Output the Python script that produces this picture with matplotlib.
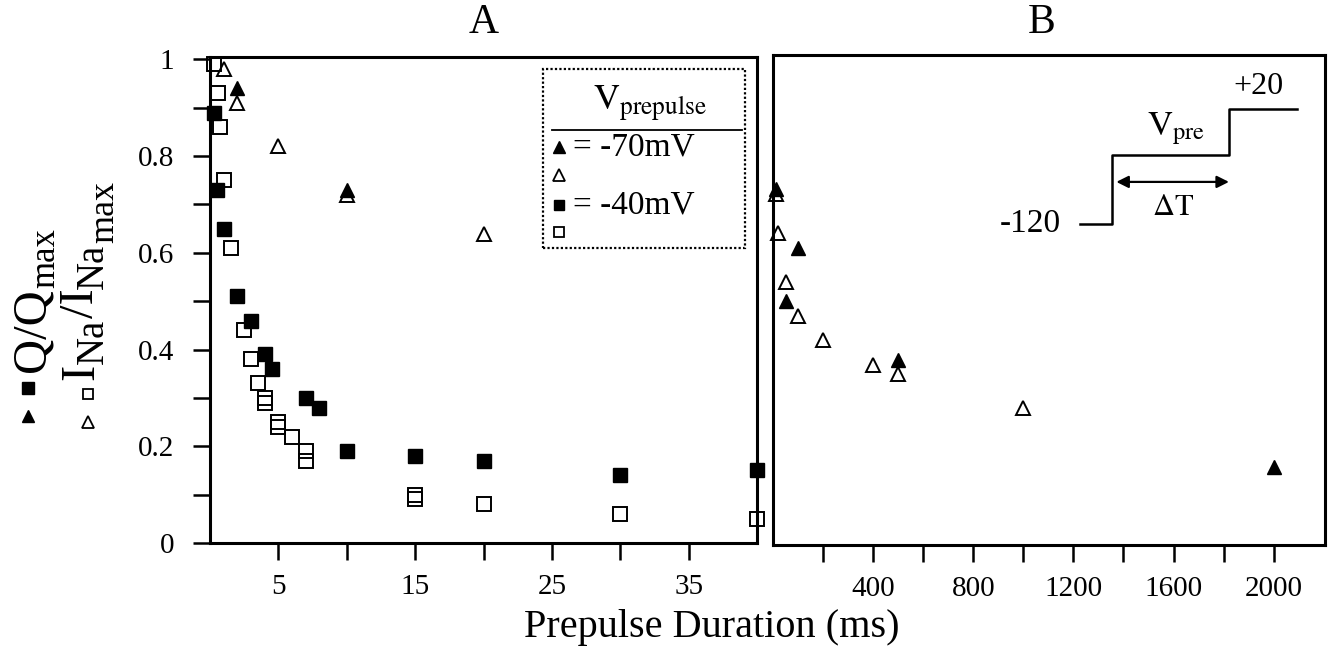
import matplotlib
matplotlib.use("Agg")
import matplotlib.pyplot as plt
from matplotlib.lines import Line2D
from matplotlib.patches import Rectangle

plt.rcParams['font.family'] = ['Liberation Serif', 'DejaVu Serif']
plt.rcParams['mathtext.fontset'] = 'stix'

# ---------------- data ----------------
# Panel A (0-40 ms)
qa_sq_x = [0.3, 0.5, 1.0, 2.0, 3.0, 4.0, 4.5, 7.0, 8.0, 10, 15, 20, 30, 40]
qa_sq_y = [0.89, 0.73, 0.65, 0.51, 0.46, 0.39, 0.36, 0.30, 0.28, 0.19, 0.18, 0.17, 0.14, 0.15]

ia_sq_x = [0.3, 0.6, 0.7, 1.0, 1.5, 2.5, 3.0, 3.5, 4.0, 4.0, 5.0, 5.0, 6.0, 7.0, 7.0, 15, 15, 20, 30, 40]
ia_sq_y = [0.99, 0.93, 0.86, 0.75, 0.61, 0.44, 0.38, 0.33, 0.30, 0.29, 0.25, 0.24, 0.22, 0.19, 0.17,
           0.10, 0.09, 0.08, 0.06, 0.05]

qa_tri_x = [2.0, 10]
qa_tri_y = [0.94, 0.73]

ia_tri_x = [1.0, 2.0, 5.0, 10, 20]
ia_tri_y = [0.98, 0.91, 0.82, 0.72, 0.64]

# Panel B (0-2200 ms)
qb_tri_x = [10, 50, 100, 500, 2000]
qb_tri_y = [0.73, 0.50, 0.61, 0.38, 0.16]

ib_tri_x = [10, 20, 50, 100, 200, 400, 500, 1000]
ib_tri_y = [0.72, 0.64, 0.54, 0.47, 0.42, 0.37, 0.35, 0.28]

a_xticks = [5, 10, 15, 20, 25, 30, 35]
a_xlabels = ['5', '', '15', '', '25', '', '35']
y_ticks = [0, 0.1, 0.2, 0.3, 0.4, 0.5, 0.6, 0.7, 0.8, 0.9, 1.0]
y_labels = ['0', '', '0.2', '', '0.4', '', '0.6', '', '0.8', '', '1']
b_xticks = [200, 400, 600, 800, 1000, 1200, 1400, 1600, 1800, 2000]
b_xlabels = ['', '400', '', '800', '', '1200', '', '1600', '', '2000']

# ---------------- figure ----------------
W, H = 1333, 653
fig = plt.figure(figsize=(W / 100, H / 100), dpi=100)

def frac(l, r, b, t):
    return [l / W, 1 - b / H, (r - l) / W, (b - t) / H]

axA = fig.add_axes(frac(210, 757, 543, 57))
axB = fig.add_axes(frac(773, 1325, 545, 55))

SPW = 2.2
MS_SQ = 9.5
MS_TR = 10.5
for ax in (axA, axB):
    for s in ax.spines.values():
        s.set_linewidth(SPW)
    ax.set_ylim(0, 1.005)
    ax.tick_params(axis='both', direction='out', length=12, width=1.8,
                   labelsize=21, pad=10)

# Panel A
kw = dict(linestyle='none', clip_on=False, zorder=4)
axA.plot(ia_sq_x, ia_sq_y, marker='s', ms=MS_SQ, mfc='none', mec='black', mew=1.4, **kw)
axA.plot(qa_sq_x, qa_sq_y, marker='s', ms=MS_SQ, mfc='black', mec='black', **kw)
axA.plot(ia_tri_x, ia_tri_y, marker='^', ms=MS_TR, mfc='none', mec='black', mew=1.4, **kw)
axA.plot(qa_tri_x, qa_tri_y, marker='^', ms=MS_TR, mfc='black', mec='black', **kw)
axA.set_xlim(0, 40)
axA.set_xticks(a_xticks)
axA.set_xticklabels(a_xlabels)
axA.set_yticks(y_ticks)
axA.set_yticklabels(y_labels)
axA.tick_params(axis='y', pad=14)

# Panel B
axB.plot(ib_tri_x, ib_tri_y, marker='^', ms=MS_TR, mfc='none', mec='black', mew=1.4, **kw)
axB.plot(qb_tri_x, qb_tri_y, marker='^', ms=MS_TR, mfc='black', mec='black', **kw)
axB.set_xlim(0, 2205)
axB.set_xticks(b_xticks)
axB.set_xticklabels(b_xlabels)
axB.set_yticks([])

# legend box in A (axes fraction)
tA = axA.transAxes
axA.add_patch(Rectangle((0.609, 0.607), 0.369, 0.368, transform=tA, fill=False,
                        lw=1.6, ls=(0, (1, 1)), ec='black', zorder=5))
axA.text(0.805, 0.905, r'$\mathrm{V_{prepulse}}$', transform=tA, ha='center', va='center', fontsize=26)
axA.plot([0.625, 0.972], [0.850, 0.850], transform=tA, color='black', lw=1.3)
axA.plot([0.638], [0.815], transform=tA, marker='^', ms=8, color='black', ls='none')
axA.plot([0.638], [0.757], transform=tA, marker='^', ms=8, mfc='none', mec='black', mew=1.3, ls='none')
axA.plot([0.638], [0.695], transform=tA, marker='s', ms=7.5, color='black', ls='none')
axA.plot([0.638], [0.640], transform=tA, marker='s', ms=7.5, mfc='none', mec='black', mew=1.3, ls='none')
axA.text(0.664, 0.815, '= -70mV', transform=tA, ha='left', va='center', fontsize=24)
axA.text(0.664, 0.695, '= -40mV', transform=tA, ha='left', va='center', fontsize=24)

# inset in B (axes fraction)
tB = axB.transAxes
axB.plot([0.556, 0.614, 0.614, 0.826, 0.826, 0.949],
         [0.655, 0.655, 0.796, 0.796, 0.890, 0.890], transform=tB, color='black', lw=1.8)
axB.annotate('', xy=(0.826, 0.741), xytext=(0.622, 0.741), xycoords=tB, textcoords=tB,
             arrowprops=dict(arrowstyle='<|-|>', color='black', lw=1.6, mutation_scale=18,
                             shrinkA=0, shrinkB=0))
axB.text(0.522, 0.655, '-120', transform=tB, ha='right', va='center', fontsize=24)
axB.text(0.880, 0.935, '+20', transform=tB, ha='center', va='center', fontsize=23)
axB.text(0.730, 0.850, r'$\mathrm{V_{pre}}$', transform=tB, ha='center', va='center', fontsize=25)
axB.text(0.725, 0.688, r'$\Delta\mathrm{T}$', transform=tB, ha='center', va='center', fontsize=22)

# titles and axis labels
fig.text(484 / W, 1 - 23 / H, 'A', ha='center', va='center', fontsize=30)
fig.text(1042 / W, 1 - 23 / H, 'B', ha='center', va='center', fontsize=30)
fig.text(712 / W, 1 - 628 / H, 'Prepulse Duration (ms)', ha='center', va='center', fontsize=29)

renderer = fig.canvas.get_renderer()

def rotated_label(x_px, y_px, pieces):
    y = y_px
    for s, size, dx in pieces:
        t = fig.text((x_px + dx) / W, 1 - y / H, s, rotation=90, rotation_mode='anchor',
                     ha='left', va='baseline', fontsize=size)
        bb = t.get_window_extent(renderer)
        y -= bb.height

rotated_label(44, 372, [('Q/Q', 35, 0), ('max', 25, 10)])
rotated_label(93, 380, [('I', 35, 0), ('Na', 28, 10), ('/I', 35, 0), ('Na', 28, 10), ('max', 26, 20)])

tF = fig.transFigure
fig.add_artist(Line2D([28 / W], [1 - 388 / H], transform=tF, marker='s', ms=8, color='black', ls='none'))
fig.add_artist(Line2D([28 / W], [1 - 416 / H], transform=tF, marker='^', ms=9, color='black', ls='none'))
fig.add_artist(Line2D([88 / W], [1 - 394 / H], transform=tF, marker='s', ms=7.5, mfc='none', mec='black', mew=1.3, ls='none'))
fig.add_artist(Line2D([88 / W], [1 - 422 / H], transform=tF, marker='^', ms=8, mfc='none', mec='black', mew=1.3, ls='none'))

fig.savefig('out.png', dpi=100)
